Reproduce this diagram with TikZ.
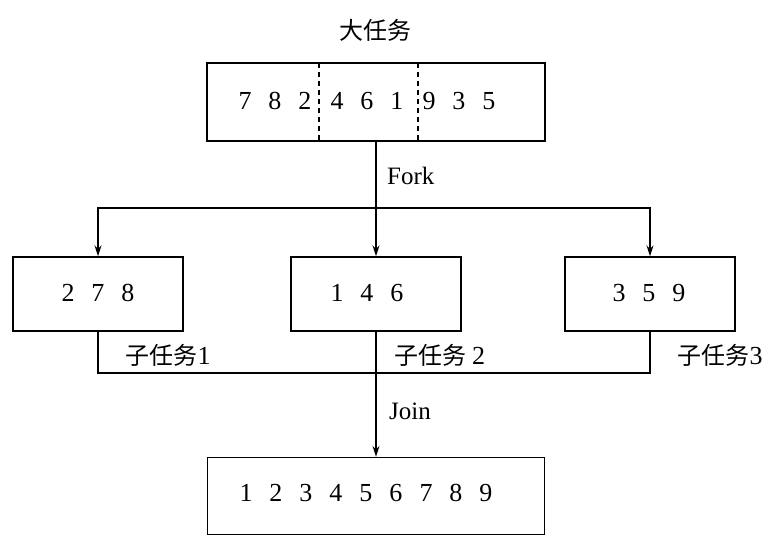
\documentclass[tikz,border=0pt]{standalone}
\usepackage{fontspec}
\setmainfont{Liberation Serif}
\newfontfamily\cjk{Noto Sans CJK SC}
\usetikzlibrary{arrows.meta,calc}
\newcommand{\dg}{\hspace{17bp}}
\tikzset{
  box/.style={draw, line width=1.4bp, inner sep=0pt},
  ln/.style={draw, line width=1.4bp},
  arr/.style={ln, -{Stealth[length=11bp,width=7bp]}},
  num/.style={inner sep=0pt, font=\fontsize{26bp}{30bp}\selectfont},
  zh/.style={inner sep=0pt, font=\fontsize{24bp}{28bp}\selectfont},
  lbl/.style={inner sep=0pt, anchor=west, font=\fontsize{25bp}{29bp}\selectfont},
}
\begin{document}
\begin{tikzpicture}[x=1bp,y=-1bp]
\useasboundingbox (0,0) rectangle (778,544);
% top box
\node[box, minimum width=338bp, minimum height=78bp] (top) at (376,102) {};
\draw[line width=1.2bp, dashed, dash pattern=on 5bp off 4bp] (319,63) -- (319,141);
\draw[line width=1.2bp, dashed, dash pattern=on 5bp off 4bp] (418,63) -- (418,141);
\node[zh] (title) at (375,30) {\cjk 大任务};
\node[num] (g1) at (275,101) {7\dg8\dg2};
\node[num] (g2) at (367,101) {4\dg6\dg1};
\node[num] (g3) at (459,101) {9\dg3\dg5};
% sub boxes
\node[box, minimum width=170bp, minimum height=74bp] (s1) at (98,294) {};
\node[box, minimum width=170bp, minimum height=74bp] (s2) at (376,294) {};
\node[box, minimum width=170bp, minimum height=74bp] (s3) at (650,294) {};
\node[num] (t1) at (98,293) {2\dg7\dg8};
\node[num] (t2) at (367,293) {1\dg4\dg6};
\node[num] (t3) at (649,293) {3\dg5\dg9};
% bottom box
\node[box, minimum width=337bp, minimum height=77bp] (bot) at (376,496) {};
\node[num] (t4) at (366,493) {1\dg2\dg3\dg4\dg5\dg6\dg7\dg8\dg9};
% fork
\coordinate (fj) at (376,208);
\draw[arr] (top.south) -- (s2.north);
\draw[arr] (fj) -| (s1.north);
\draw[arr] (fj) -| (s3.north);
\node[lbl] (fork) at (387,176) {Fork};
% join
\coordinate (jl) at (376,373);
\draw[ln] (s1.south) |- (jl);
\draw[ln] (s3.south) |- (jl);
\draw[arr] (s2.south) -- (bot.north);
\node[lbl] (join) at (389,411) {Join};
% labels
\node[zh] (l1) at (168,355) {\cjk 子任务\fontsize{26bp}{30bp}\selectfont\rmfamily 1};
\node[zh] (l2) at (440,355) {\cjk 子任务\ \fontsize{26bp}{30bp}\selectfont\rmfamily 2};
\node[zh] (l3) at (720,355) {\cjk 子任务\fontsize{26bp}{30bp}\selectfont\rmfamily 3};
\end{tikzpicture}
\end{document}
